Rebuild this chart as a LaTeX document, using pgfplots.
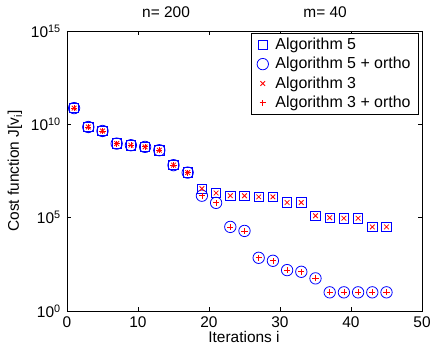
\documentclass[border=0pt]{standalone}
\usepackage{pgfplots}
\pgfplotsset{compat=1.18}
\usepackage{fontspec}
\setmainfont{Liberation Sans}
\begin{document}
\fontsize{15.5}{18}\selectfont
\begin{tikzpicture}
\begin{axis}[
  scale only axis,
  width=355bp, height=280bp,
  ymode=log,
  xmin=0, xmax=50, ymin=1, ymax=1e15,
  xtick={0,10,20,30,40,50},
  ytick={1,1e5,1e10,1e15},
  yticklabels={10\textsuperscript{0},10\textsuperscript{5},10\textsuperscript{10},10\textsuperscript{15}},
  minor tick num=0,
  yminorticks=false,
  tick align=inside,
  major tick length=4bp,
  tick style={black, line width=0.6pt},
  axis line style={black, line width=0.8pt},
  /pgf/number format/assume math mode=true,
  xticklabel style={font=\fontsize{15.5}{18}\selectfont},
  yticklabel style={font=\fontsize{15.5}{18}\selectfont, xshift=-1bp},
  xlabel={Iterations i},
  ylabel={Cost function J[v\textsubscript{i}]},
  label style={font=\fontsize{15.5}{18}\selectfont},
  xlabel style={at={(axis description cs:0.4986,0)}, anchor=base, yshift=-31bp},
  ylabel style={at={(axis description cs:-0.1465,0.5)}, anchor=center},
  legend style={at={(0.9915,0.993)}, anchor=north east, draw=black, line width=0.8pt,
    font=\fontsize{16}{18}\selectfont, row sep=1.5bp, column sep=5bp, inner xsep=6bp, inner ysep=2.5bp,
    cells={anchor=west}},
  legend cell align=left,
  clip=false,
]
\addplot[only marks, mark=square, mark size=4.7bp, color=blue, mark options={solid, draw=blue}, line width=0.8pt] coordinates {
(1,7.4e10)(3,7.2e9)(5,4.4e9)(7,9.3e8)(9,7.6e8)(11,6.2e8)(13,4.1e8)(15,6.5e7)(17,2.6e7)
(19,3.6e6)(21,2.1e6)(23,1.5e6)(25,1.5e6)(27,1.3e6)(29,1.3e6)(31,6.5e5)(33,6.5e5)
(35,1.26e5)(37,1.0e5)(39,9.3e4)(41,9.3e4)(43,3.2e4)(45,3.2e4)};
\addlegendentry{Algorithm 5}
\addplot[only marks, mark=o, mark size=5.7bp, color=blue, mark options={solid, draw=blue}, line width=0.8pt] coordinates {
(1,7.4e10)(3,7.2e9)(5,4.4e9)(7,9.3e8)(9,7.6e8)(11,6.2e8)(13,4.1e8)(15,6.5e7)(17,2.6e7)
(19,1.5e6)(21,6.2e5)(23,3.2e4)(25,1.95e4)(27,708)(29,490)(31,155)(33,126)
(35,56)(37,10)(39,10)(41,10)(43,10)(45,10)};
\addlegendentry{Algorithm 5 + ortho}
\addplot[only marks, mark=x, mark size=3.3bp, color=red, mark options={solid, draw=red}, line width=0.8pt] coordinates {
(1,7.4e10)(3,7.2e9)(5,4.4e9)(7,9.3e8)(9,7.6e8)(11,6.2e8)(13,4.1e8)(15,6.5e7)(17,2.6e7)
(19,3.6e6)(21,2.1e6)(23,1.5e6)(25,1.5e6)(27,1.3e6)(29,1.3e6)(31,6.5e5)(33,6.5e5)
(35,1.26e5)(37,1.0e5)(39,9.3e4)(41,9.3e4)(43,3.2e4)(45,3.2e4)};
\addlegendentry{Algorithm 3}
\addplot[only marks, mark=x, mark size=3.05bp, color=red, mark options={solid, draw=red, rotate=45}, line width=0.8pt] coordinates {
(1,7.4e10)(3,7.2e9)(5,4.4e9)(7,9.3e8)(9,7.6e8)(11,6.2e8)(13,4.1e8)(15,6.5e7)(17,2.6e7)
(19,1.5e6)(21,6.2e5)(23,3.2e4)(25,1.95e4)(27,708)(29,490)(31,155)(33,126)
(35,56)(37,10)(39,10)(41,10)(43,10)(45,10)};
\addlegendentry{Algorithm 3 + ortho}
\node[anchor=base, yshift=13bp] at (rel axis cs:0.279,1) {n= 200};
\node[anchor=base, yshift=13bp] at (rel axis cs:0.727,1) {m= 40};
\end{axis}
\pgfresetboundingbox
\path ([shift={(-67bp,-34bp)}]current axis.south west) rectangle ([shift={(11bp,31bp)}]current axis.north east);
\end{tikzpicture}
\end{document}
